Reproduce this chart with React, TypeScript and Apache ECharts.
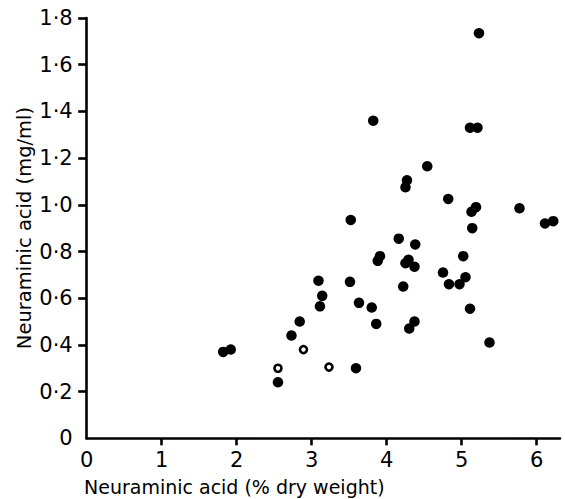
import React, { useEffect, useRef } from "react";
import * as echarts from "echarts";

// Neuraminic acid concentration against dry-weight percentage
const solidPoints: [number, number][] = [
  [5.23, 1.735], [3.82, 1.36], [5.11, 1.33], [5.21, 1.33], [4.54, 1.165],
  [4.27, 1.105], [4.25, 1.075], [4.82, 1.025], [5.19, 0.99], [5.13, 0.97],
  [5.77, 0.985], [6.11, 0.92], [6.22, 0.93], [3.52, 0.935], [5.14, 0.9],
  [4.16, 0.855], [4.38, 0.83], [3.91, 0.78], [3.88, 0.76], [4.29, 0.765],
  [4.25, 0.75], [4.37, 0.735], [5.02, 0.78], [4.75, 0.71], [5.05, 0.69],
  [3.51, 0.67], [3.09, 0.675], [4.22, 0.65], [3.14, 0.61], [3.11, 0.565],
  [3.63, 0.58], [3.8, 0.56], [2.84, 0.5], [3.86, 0.49], [4.37, 0.5],
  [4.3, 0.47], [2.73, 0.44], [4.83, 0.66], [4.97, 0.66], [5.11, 0.555],
  [5.37, 0.41], [1.82, 0.37], [1.92, 0.38], [2.55, 0.24], [3.59, 0.3],
];
const openPoints: [number, number][] = [
  [2.55, 0.3], [2.89, 0.38], [3.23, 0.305],
];

const xLabelValues = [0, 1, 2, 3, 4, 5, 6];
const xTickValues = [1, 2, 3, 4, 5, 6];
const yLabelValues = [0, 0.2, 0.4, 0.6, 0.8, 1.0, 1.2, 1.4, 1.6, 1.8];
const yTickValues = [0.2, 0.4, 0.6, 0.8, 1.0, 1.2, 1.4, 1.6, 1.8];

const xTitle = "Neuraminic acid (% dry weight)";
const yTitle = "Neuraminic acid (mg/ml)";

const FONT = "DejaVu Sans";
const INK = "#000000";

export default function App() {
  const ref = useRef<HTMLDivElement>(null);

  useEffect(() => {
    if (!ref.current) return;
    const chart = echarts.init(ref.current, undefined, { renderer: "svg" });
    const axisLine = { show: true, lineStyle: { color: INK, width: 2.6 } };
    chart.setOption({
      animation: false,
      backgroundColor: "#ffffff",
      grid: { left: 86.7, right: 5, top: 18, bottom: 60.7, containLabel: false },
      xAxis: {
        type: "value",
        min: 0,
        max: 6.31,
        interval: 1,
        axisLine,
        axisTick: {
          show: true,
          length: 7,
          customValues: xTickValues,
          lineStyle: { color: INK, width: 2.6 },
        },
        axisLabel: {
          customValues: xLabelValues,
          color: INK,
          fontFamily: FONT,
          fontSize: 21,
          margin: 11,
          formatter: (v: number) => String(Math.round(v)),
        },
        splitLine: { show: false },
      },
      yAxis: {
        type: "value",
        min: 0,
        max: 1.8,
        interval: 0.2,
        axisLine,
        axisTick: {
          show: true,
          length: 8.5,
          customValues: yTickValues,
          lineStyle: { color: INK, width: 2.6 },
        },
        axisLabel: {
          customValues: yLabelValues,
          color: INK,
          fontFamily: FONT,
          fontSize: 21,
          margin: 14,
          formatter: (v: number) =>
            v === 0 ? "0" : v.toFixed(1).replace(".", "\u00b7"),
        },
        splitLine: { show: false },
      },
      graphic: [
        {
          type: "text",
          left: 84,
          top: 477,
          style: {
            text: xTitle,
            fill: INK,
            font: `19px "${FONT}"`,
          },
        },
        {
          type: "text",
          x: 24,
          y: 228,
          rotation: Math.PI / 2,
          style: {
            text: yTitle,
            fill: INK,
            font: `19.5px "${FONT}"`,
            align: "center",
            verticalAlign: "middle",
          },
        },
      ],
      series: [
        {
          type: "scatter",
          data: solidPoints,
          symbol: "circle",
          symbolSize: 10.5,
          itemStyle: { color: INK, opacity: 1 },
          z: 3,
        },
        {
          type: "scatter",
          data: openPoints,
          symbol: "circle",
          symbolSize: 7,
          itemStyle: {
            color: "#ffffff",
            borderColor: INK,
            borderWidth: 2.6,
            opacity: 1,
          },
          z: 4,
        },
      ],
    });
    return () => chart.dispose();
  }, []);

  return (
    <div
      ref={ref}
      style={{ position: "fixed", left: 0, top: 0, width: 565, height: 499 }}
    />
  );
}
